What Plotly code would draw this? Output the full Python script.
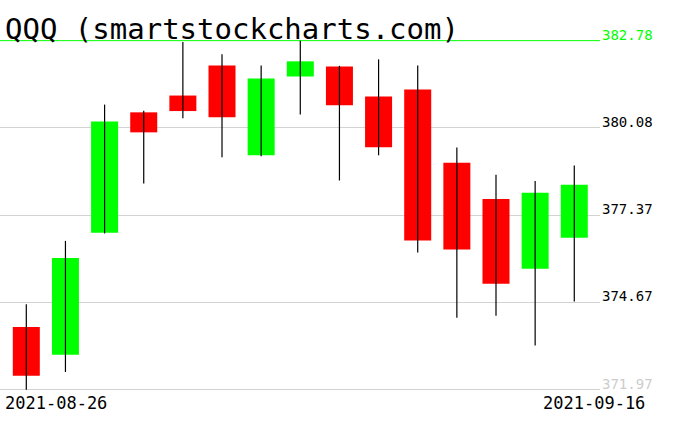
import plotly.graph_objects as go

ticker = "QQQ"
source = "smartstockcharts.com"
dates = ["2021-08-26", "2021-08-27", "2021-08-30", "2021-08-31", "2021-09-01",
         "2021-09-02", "2021-09-03", "2021-09-07", "2021-09-08", "2021-09-09",
         "2021-09-10", "2021-09-13", "2021-09-14", "2021-09-15", "2021-09-16"]
opens = [373.91, 373.05, 376.83, 380.56, 381.08, 382.01, 379.23, 381.67,
         381.98, 381.05, 381.27, 379.00, 377.88, 375.72, 376.68]
highs = [374.62, 376.58, 380.80, 380.61, 382.74, 382.36, 382.01, 382.78,
         382.00, 382.20, 382.01, 379.47, 378.63, 378.43, 378.91]
lows = [371.97, 372.52, 376.81, 378.36, 380.38, 379.17, 379.20, 380.49,
        378.45, 379.23, 376.22, 374.20, 374.26, 373.34, 374.70]
closes = [372.40, 376.05, 380.28, 379.94, 380.60, 380.41, 381.61, 382.14,
          380.78, 379.48, 376.59, 376.31, 375.25, 378.07, 378.32]
tick_vals = [371.97, 374.67, 377.37, 380.08, 382.78]
tick_labels = ["371.97", "374.67", "377.37", "380.08", "382.78"]

UP = "#00ff00"
DOWN = "#ff0000"

# wicks
wx, wy = [], []
for d, lo, hi in zip(dates, lows, highs):
    wx += [d, d, None]
    wy += [lo, hi, None]

bases = [min(o, c) for o, c in zip(opens, closes)]
heights = [abs(c - o) for o, c in zip(opens, closes)]
colors = [UP if c >= o else DOWN for o, c in zip(opens, closes)]

fig = go.Figure()
fig.add_trace(go.Scatter(x=wx, y=wy, mode="lines",
                         line=dict(color="black", width=1.2),
                         hoverinfo="skip", showlegend=False))
fig.add_trace(go.Bar(x=dates, y=heights, base=bases, width=0.69,
                     marker=dict(color=colors, line=dict(width=0)),
                     hoverinfo="skip", showlegend=False))

fig.add_shape(type="line", xref="paper", x0=0, x1=1, yref="y",
              y0=max(highs), y1=max(highs),
              line=dict(color=UP, width=1), layer="below")

label_colors = ["#cccccc", "black", "black", "black", UP]
ticktext = [f"<span style='color:{c}'>{t}</span>" for t, c in zip(tick_labels, label_colors)]

fig.update_layout(
    width=676, height=431,
    margin=dict(l=0, r=76, t=40, b=39),
    paper_bgcolor="white", plot_bgcolor="white",
    font=dict(family="DejaVu Sans Mono", color="black"),
    xaxis=dict(type="category", range=[-0.672, 14.657], showticklabels=False,
               showgrid=False, zeroline=False, showline=False, ticks=""),
    yaxis=dict(side="right", range=[371.90, 382.80], tickvals=tick_vals,
               ticktext=ticktext, showgrid=True, gridcolor="#d3d3d3",
               gridwidth=1, zeroline=False, showline=False, ticks="",
               tickfont=dict(family="DejaVu Sans Mono", size=14),
               ticklabelshift=-6, ticklabelstandoff=1),
    annotations=[
        dict(text=f"{ticker} ({source})", xref="paper", yref="paper",
             x=0, y=1, xanchor="left", yanchor="bottom", xshift=3, yshift=-8,
             showarrow=False, font=dict(family="DejaVu Sans Mono", size=29, color="black")),
        dict(text=dates[0], xref="paper", yref="paper", x=0, y=0,
             xanchor="left", yanchor="top", xshift=3, yshift=1,
             showarrow=False, font=dict(family="DejaVu Sans Mono", size=17, color="black")),
        dict(text=dates[-1], xref="paper", yref="paper", x=1, y=0,
             xanchor="right", yanchor="top", xshift=47, yshift=1,
             showarrow=False, font=dict(family="DejaVu Sans Mono", size=17, color="black")),
    ],
    bargap=0.3,
)
fig.write_html("out.html", config={"displayModeBar": False},
               post_script="document.body.style.margin='0';")
